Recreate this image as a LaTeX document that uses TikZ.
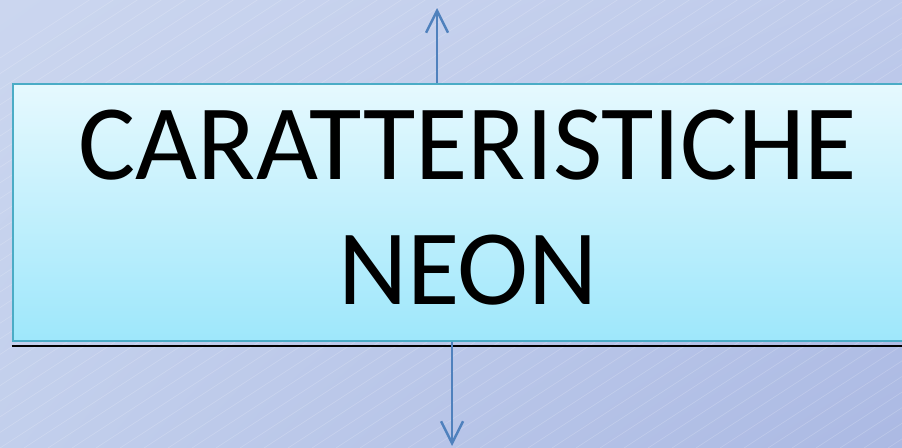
\documentclass[tikz,border=0pt]{standalone}
\usepackage{fontspec}
\setmainfont{Carlito}
\usetikzlibrary{arrows.meta,shadings}
\definecolor{bgtl}{HTML}{CBD6EF}
\definecolor{bgtr}{HTML}{BFCBEB}
\definecolor{bgbl}{HTML}{C2CFEC}
\definecolor{bgbr}{HTML}{ABB9E3}
\definecolor{boxtop}{HTML}{E6F9FE}
\definecolor{boxbot}{HTML}{9EE7FB}
\definecolor{boxline}{HTML}{4BACC6}
\definecolor{arrowblue}{HTML}{4F81BD}
\tikzset{
  titlebox/.style={draw=boxline, line width=1.4pt, top color=boxtop, bottom color=boxbot,
    minimum width=17.82cm, minimum height=5.14cm, inner sep=0pt},
  titletext/.style={inner sep=0pt, align=center, font=\fontsize{61}{71}\selectfont},
  flow/.style={draw=arrowblue, line width=1.4pt, -{Straight Barb[length=4.4mm,width=4.4mm]}},
  shadowline/.style={draw=black, line width=1.3pt},
  hatch/.style={draw=white, opacity=0.18, line width=0.4pt}
}
\begin{document}
\begin{tikzpicture}[x=0.02cm,y=-0.02cm]
\useasboundingbox (0,0) rectangle (902,448);
\shade[upper left=bgtl, upper right=bgtr, lower left=bgbl, lower right=bgbr] (0,0) rectangle (902,448);
\begin{scope}
\clip (0,0) rectangle (902,448);
\foreach \k in {0,24,...,1560}
  \draw[hatch] (\k-600,448) -- ++(700,-455);
\end{scope}
% titolo
\node[titlebox] (box) at (458.5,212.5) {};
\node[titletext] (title) at ([xshift=0.19cm,yshift=0.1cm]box.center) {CARATTERISTICHE\\NEON};
\draw[shadowline] ([yshift=-0.07cm]box.south west) -- ([yshift=-0.07cm]box.south east);
% frecce
\coordinate (uptip) at (437,8);
\coordinate (downtip) at (452,446);
\draw[flow] (uptip |- box.north) -- (uptip);
\draw[flow] (downtip |- box.south) -- (downtip);
\end{tikzpicture}
\end{document}
